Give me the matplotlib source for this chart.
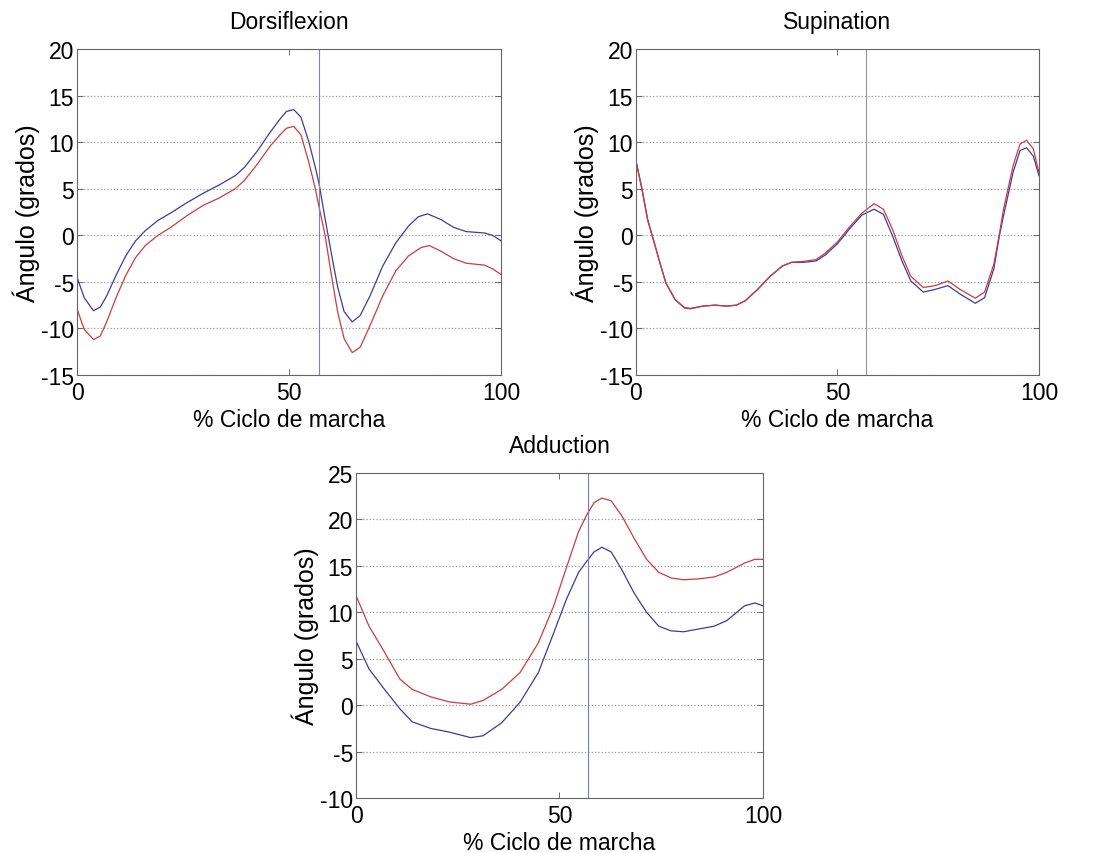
import numpy as np
import matplotlib
matplotlib.use("Agg")
import matplotlib.pyplot as plt

plt.rcParams['font.family'] = ['Liberation Sans', 'DejaVu Sans']
plt.rcParams['axes.unicode_minus'] = False

# Dorsiflexion
dors_x_blue = [0, 1.7, 3.9, 5.5, 7.0, 9.2, 11.5, 13.8, 16.1, 19.1, 22.1, 25.9, 29.7, 33.5, 37.3,
               39.5, 42.6, 45.6, 47.9, 49.4, 51.1, 52.8, 54.7, 56.2, 57.1, 58.5, 60, 61.5, 63,
               64.9, 66.8, 69.1, 72.1, 75.2, 78.2, 80.5, 82.7, 85.8, 88.8, 91.8, 96.1, 98, 100]
dors_y_blue = [-4.5, -6.7, -8.1, -7.7, -6.5, -4.3, -2.2, -0.6, 0.5, 1.6, 2.4, 3.5, 4.5, 5.4, 6.4,
               7.3, 9.1, 11.1, 12.5, 13.3, 13.5, 12.7, 10.0, 7.3, 5.5, 1.8, -2.0, -5.6, -8.2,
               -9.3, -8.6, -6.5, -3.3, -0.8, 1.0, 2.0, 2.3, 1.7, 0.85, 0.4, 0.25, 0.0, -0.6]
dors_x_red = [0, 1.7, 3.9, 5.5, 7.0, 9.2, 11.5, 13.8, 16.1, 19.1, 22.1, 25.9, 29.7, 33.5, 37.3,
              39.5, 42.6, 45.6, 47.9, 49.4, 51.1, 52.8, 54.7, 56.2, 57.1, 58.5, 60, 61.5, 63,
              64.9, 66.8, 69.1, 72.1, 75.2, 78.2, 81.2, 83.1, 85.8, 88.8, 91.8, 96.1, 98, 100]
dors_y_red = [-7.9, -10.1, -11.2, -10.8, -9.3, -6.7, -4.3, -2.4, -1.1, 0.0, 0.85, 2.1, 3.2, 4.0, 5.0,
              5.9, 7.7, 9.6, 10.8, 11.5, 11.7, 10.8, 7.8, 5.0, 3.0, 0.0, -4.3, -8.3, -11.1,
              -12.6, -12.0, -9.7, -6.5, -3.8, -2.2, -1.3, -1.1, -1.7, -2.5, -3.0, -3.2, -3.6, -4.2]

# Supination
sup_x = [0, 1.4, 2.9, 4.4, 5.9, 7.4, 9.7, 12.0, 13.5, 16.6, 19.6, 22.6, 24.9, 27.2, 30.2,
         33.3, 36.3, 38.6, 41.6, 44.7, 47, 50, 53, 56.1, 59.1, 61.4, 63.7, 66, 68.2, 71.3,
         74.3, 77.4, 80.4, 84.2, 86.5, 88.8, 90.2, 91.2, 93.6, 95.3, 96.9, 98.6, 100]
sup_y_blue = [8.0, 5.2, 1.7, -0.6, -2.9, -5.1, -6.9, -7.75, -7.85, -7.6, -7.5, -7.6, -7.5, -7.0, -5.8,
              -4.4, -3.3, -2.9, -2.9, -2.75, -2.1, -0.9, 0.7, 2.2, 2.8, 2.25, -0.1, -2.75, -4.9, -6.1,
              -5.8, -5.4, -6.3, -7.3, -6.7, -3.6, 0.0, 2.1, 6.8, 9.1, 9.4, 8.5, 6.4]
sup_y_red = [7.9, 5.1, 1.6, -0.6, -2.9, -5.1, -6.9, -7.8, -7.9, -7.6, -7.5, -7.6, -7.5, -7.0, -5.8,
             -4.4, -3.3, -2.9, -2.8, -2.6, -1.9, -0.7, 0.9, 2.4, 3.4, 2.8, 0.6, -2.2, -4.4, -5.6,
             -5.4, -4.9, -5.8, -6.75, -6.1, -3.1, 0.2, 2.8, 7.5, 9.8, 10.2, 9.3, 6.7]

# Adduction
add_x = [0, 3.2, 7.0, 10.8, 13.8, 18.3, 22.9, 28.2, 31.2, 35.8, 40.3, 44.8, 48.6, 51.7, 54.7,
         56.7, 58.5, 60.4, 62.7, 65.3, 68.3, 71.4, 74.4, 77.4, 80.5, 84.2, 88, 91.1, 95.5, 98, 100]
add_y_red = [11.8, 8.5, 5.7, 2.8, 1.7, 0.9, 0.35, 0.1, 0.5, 1.7, 3.5, 6.7, 10.7, 14.8, 18.7,
             20.5, 21.8, 22.3, 22.0, 20.4, 18.0, 15.7, 14.3, 13.7, 13.5, 13.6, 13.8, 14.3, 15.3, 15.7, 15.7]
add_y_blue = [6.9, 3.9, 1.7, -0.4, -1.8, -2.5, -2.9, -3.5, -3.3, -1.9, 0.3, 3.5, 7.8, 11.4, 14.3,
              15.5, 16.5, 17.0, 16.5, 14.6, 12.1, 10.0, 8.5, 8.0, 7.9, 8.2, 8.5, 9.1, 10.7, 11.0, 10.7]

toe_off = 57
blue = '#3c3c9c'
red = '#cc3c3c'

fig = plt.figure(figsize=(11.08, 8.54), dpi=100)

panels = [
    ([0.0695, 0.5597, 0.3827, 0.3817], "Dorsiflexion", dors_x_blue, dors_y_blue, dors_x_red, dors_y_red, (-15, 20), '#8080bc'),
    ([0.574, 0.5597, 0.3637, 0.3817], "Supination", sup_x, sup_y_blue, sup_x, sup_y_red, (-15, 20), '#9494aa'),
    ([0.3213, 0.0644, 0.3673, 0.3806], "Adduction", add_x, add_y_blue, add_x, add_y_red, (-10, 25), '#7a7ac0'),
]

for rect, title, xb, yb, xr, yr, ylim, vcol in panels:
    ax = fig.add_axes(rect)
    ax.plot(xb, yb, color=blue, lw=0.9)
    ax.plot(xr, yr, color=red, lw=0.9)
    ax.axvline(toe_off, color=vcol, lw=0.8)
    ax.set_xlim(0, 100)
    ax.set_ylim(*ylim)
    ax.set_xticks([0, 50, 100])
    ax.set_yticks(np.arange(ylim[0], ylim[1] + 1, 5))
    ax.yaxis.grid(True, linestyle=':', color='#9a9a9a', lw=0.9)
    ax.tick_params(direction='in', top=True, right=True, length=4, width=0.6,
                   color='#555555', labelsize=16.5, pad=2)
    ax.tick_params(axis='x', pad=4)
    for s in ax.spines.values():
        s.set_color('#666666')
        s.set_linewidth(0.8)
    ax.set_title(title, fontsize=16.5, pad=15)
    ax.set_xlabel('% Ciclo de marcha', fontsize=16.5, labelpad=3)
    ax.set_ylabel('Ángulo (grados)', fontsize=18, labelpad=1)

fig.savefig('out.png', dpi=100)
